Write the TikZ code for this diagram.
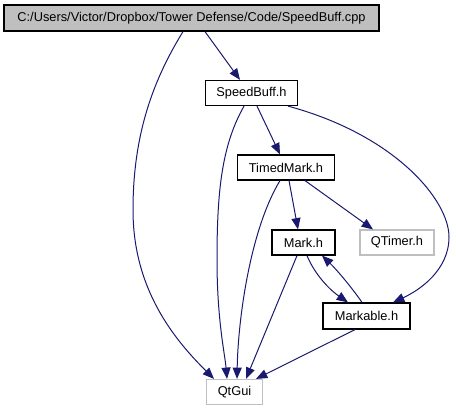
\documentclass[tikz,border=0pt]{standalone}
\usepackage{fontspec}
\setmainfont{Liberation Sans}
\usetikzlibrary{arrows.meta}
\definecolor{edgeblue}{HTML}{191970}
\definecolor{lgray}{HTML}{BFBFBF}
\tikzset{
  box/.style={draw=black, line width=0.9pt, inner sep=0pt, font=\fontsize{9.6}{11}\selectfont},
  extbox/.style={draw=lgray, line width=0.9pt, inner sep=0pt, font=\fontsize{9.6}{11}\selectfont},
  dep/.style={draw=edgeblue, line width=0.75pt, -{Triangle[length=8.5pt,width=6.8pt]}},
}
\begin{document}
\begin{tikzpicture}[x=0.75pt,y=-0.75pt]
\useasboundingbox (0,0) rectangle (456,411);
\node[box, fill=lgray, minimum width=375*0.75pt, minimum height=26*0.75pt] (top) at (191.5,18) {C:/Users/Victor/Dropbox/Tower Defense/Code/SpeedBuff.cpp};
\node[box, minimum width=92*0.75pt, minimum height=25*0.75pt] (sb) at (251.5,93) {SpeedBuff.h};
\node[box, minimum width=97*0.75pt, minimum height=25*0.75pt] (tm) at (286,167.5) {TimedMark.h};
\node[box, minimum width=63*0.75pt, minimum height=25*0.75pt] (mk) at (303.5,242.5) {Mark.h};
\node[extbox, minimum width=74*0.75pt, minimum height=25*0.75pt] (qt) at (397,242.5) {QTimer.h};
\node[box, minimum width=87*0.75pt, minimum height=26*0.75pt] (mb) at (366.5,316) {Markable.h};
\node[extbox, minimum width=56*0.75pt, minimum height=25*0.75pt] (gui) at (234.5,392) {QtGui};

\draw[dep] (top.south -| 183,0) .. controls (150,85) and (133,140) .. (133,210) .. controls (133,290) and (175,340) .. (gui.north -| 214,0);
\draw[dep] (top.south -| 205,0) -- (sb.north -| 240,0);
\draw[dep] (sb.south -| 244,0) .. controls (222,145) and (217,190) .. (217,260) .. controls (217,320) and (225,355) .. (gui.north -| 227,0);
\draw[dep] (sb.south -| 257,0) -- (tm.north -| 280,0);
\draw[dep] (sb.south -| 288,0) .. controls (395,135) and (449,200) .. (449,237) .. controls (449,270) and (420,290) .. (mb.north -| 393,0);
\draw[dep] (tm.south -| 280,0) .. controls (250,230) and (238,320) .. (gui.north -| 237,0);
\draw[dep] (tm.south -| 289,0) -- (mk.north -| 298,0);
\draw[dep] (tm.south -| 305,0) -- (qt.north -| 373,0);
\draw[dep] (mk.south -| 297,0) -- (gui.north -| 246,0);
\draw[dep] (mk.south -| 307,0) .. controls (315,275) and (330,290) .. (mb.north -| 348,0);
\draw[dep] (mb.north -| 362,0) .. controls (350,285) and (335,268) .. (mk.south -| 322,0);
\draw[dep] (mb.south -| 355,0) -- (gui.north -| 256,0);
\end{tikzpicture}
\end{document}
